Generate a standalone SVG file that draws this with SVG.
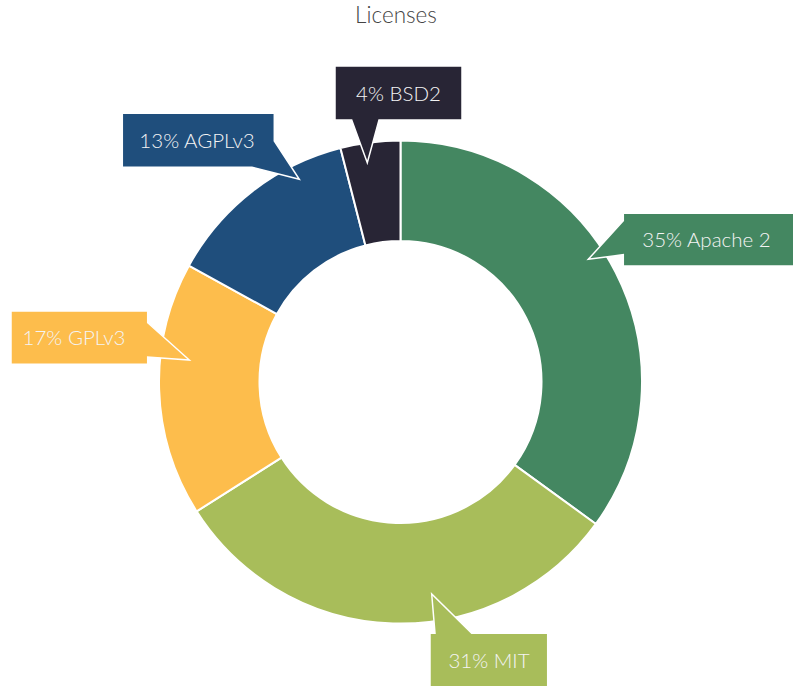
<svg xmlns="http://www.w3.org/2000/svg" width="793" height="687" viewBox="0 0 793 687">
<style>
.slice{stroke:#ffffff;stroke-width:2;stroke-linejoin:round}
.call{stroke:#ffffff;stroke-width:1.5;stroke-linejoin:miter}
.lbl{font-family:Lato,"Open Sans","Liberation Sans",sans-serif;font-size:20.5px;font-weight:300;fill:#f4f4f4;text-anchor:middle}
.title{font-family:Lato,"Open Sans","Liberation Sans",sans-serif;font-size:22.5px;font-weight:300;fill:#444444;text-anchor:middle}
</style>
<rect width="793" height="687" fill="#ffffff"/>
<text class="title" x="396" y="23">Licenses</text>
<g id="slices">
<path id="slice-apache" class="slice" fill="#448761" d="M400.5,140.5 A241.5,241.5 0 0 1 595.88,523.95 L514.57,464.88 A141,141 0 0 0 400.5,241 Z"/>
<path id="slice-mit" class="slice" fill="#a8bd5a" d="M595.88,523.95 A241.5,241.5 0 0 1 196.59,511.4 L281.45,457.55 A141,141 0 0 0 514.57,464.88 Z"/>
<path id="slice-gpl" class="slice" fill="#fdbd4c" d="M196.59,511.4 A241.5,241.5 0 0 1 188.87,265.66 L276.94,314.07 A141,141 0 0 0 281.45,457.55 Z"/>
<path id="slice-agpl" class="slice" fill="#1f4e7c" d="M188.87,265.66 A241.5,241.5 0 0 1 340.44,148.09 L365.43,245.43 A141,141 0 0 0 276.94,314.07 Z"/>
<path id="slice-bsd" class="slice" fill="#282535" d="M340.44,148.09 A241.5,241.5 0 0 1 400.5,140.5 L400.5,241 A141,141 0 0 0 365.43,245.43 Z"/>
</g>
<g id="label-bsd2">
<polygon class="call" fill="#282535" points="335,66 462,66 462,120 379,120 367.3,162.7 351.7,120 335,120"/>
<text class="lbl" x="398.5" y="100.5">4% BSD2</text>
</g>
<g id="label-agplv3">
<polygon class="call" fill="#1f4e7c" points="122.3,113.3 274.3,113.3 274.3,141 299.3,179.3 252,167.3 122.3,167.3"/>
<text class="lbl" x="197" y="147.5">13% AGPLv3</text>
</g>
<g id="label-apache2">
<polygon class="call" fill="#448761" points="623.3,213.3 794,213.3 794,266 623.3,266 623.3,254.7 588.3,259.3 623.3,220.7"/>
<text class="lbl" x="706.5" y="247">35% Apache 2</text>
</g>
<g id="label-gplv3">
<polygon class="call" fill="#fdbd4c" points="11,311 147.7,311 147.7,322.7 189.3,360 147.7,357 147.7,364.3 11,364.3"/>
<text class="lbl" x="74" y="344.5">17% GPLv3</text>
</g>
<g id="label-mit">
<polygon class="call" fill="#a8bd5a" points="430,633.3 435,633.3 431.7,594 471.7,633.3 547.7,633.3 547.7,686.7 430,686.7"/>
<text class="lbl" x="489" y="667.5">31% MIT</text>
</g>
</svg>
